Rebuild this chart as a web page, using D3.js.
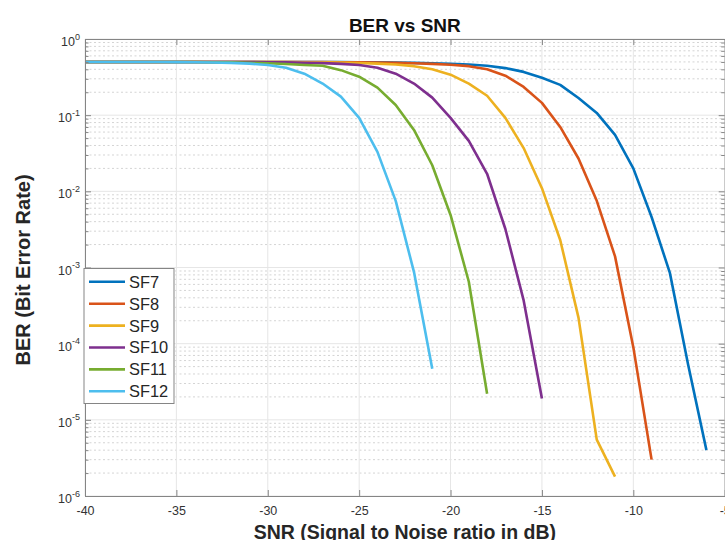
<!DOCTYPE html>
<html lang="en">
<head>
    <meta charset="UTF-8">
    <title>BER vs SNR</title>
    <script src="https://d3js.org/d3.v7.min.js"></script>
    <style>
        html, body {
            margin: 0;
            background: #fff;
        }
        #vis {
            width: 725px;
            height: 540px;
            overflow: hidden;
        }
        text {
            font-family: "Liberation Sans", Arial, Helvetica, sans-serif;
        }
    </style>
</head>
<body>
<div id="vis"></div>
<script type="text/javascript">
// series names, one BER array per spreading factor, SNR (dB) for each point
var names = ["SF7", "SF8", "SF9", "SF10", "SF11", "SF12"];
var colours = ["#0072BD", "#D95319", "#EDB120", "#7E2F8E", "#77AC30", "#4DBEEE"];

var snrSF7 = [-40,-39,-38,-37,-36,-35,-34,-33,-32,-31,-30,-29,-28,-27,-26,-25,-24,-23,-22,-21,-20,-19,-18,-17,-16,-15,-14,-13,-12,-11,-10,-9,-8,-7,-6];
var berSF7 = [0.5,0.5,0.5,0.5,0.5,0.5,0.5,0.5,0.5,0.5,0.5,0.5,0.499,0.498,0.497,0.495,0.493,0.49,0.486,0.48,0.473,0.462,0.445,0.415,0.37,0.31,0.25,0.168,0.107,0.055,0.02,4.6e-3,8.5e-4,5.3e-5,4e-6];

var snrSF8 = [-40,-39,-38,-37,-36,-35,-34,-33,-32,-31,-30,-29,-28,-27,-26,-25,-24,-23,-22,-21,-20,-19,-18,-17,-16,-15,-14,-13,-12,-11,-10,-9];
var berSF8 = [0.5,0.5,0.5,0.5,0.5,0.5,0.5,0.5,0.5,0.5,0.5,0.499,0.498,0.497,0.495,0.493,0.49,0.486,0.48,0.472,0.46,0.44,0.4,0.33,0.235,0.145,0.07,0.027,7.5e-3,1.4e-3,9e-5,3e-6];

var snrSF9 = [-40,-39,-38,-37,-36,-35,-34,-33,-32,-31,-30,-29,-28,-27,-26,-25,-24,-23,-22,-21,-20,-19,-18,-17,-16,-15,-14,-13,-12,-11];
var berSF9 = [0.5,0.5,0.5,0.5,0.5,0.5,0.5,0.5,0.5,0.5,0.499,0.498,0.496,0.494,0.49,0.484,0.475,0.462,0.44,0.4,0.34,0.26,0.18,0.092,0.037,0.011,2.3e-3,2.2e-4,5.5e-6,1.8e-6];

var snrSF10 = [-40,-39,-38,-37,-36,-35,-34,-33,-32,-31,-30,-29,-28,-27,-26,-25,-24,-23,-22,-21,-20,-19,-18,-17,-16,-15];
var berSF10 = [0.5,0.5,0.5,0.5,0.5,0.5,0.5,0.5,0.499,0.498,0.496,0.493,0.488,0.482,0.472,0.455,0.42,0.35,0.26,0.17,0.092,0.046,0.017,3.2e-3,3.7e-4,1.9e-5];

var snrSF11 = [-40,-39,-38,-37,-36,-35,-34,-33,-32,-31,-30,-29,-28,-27,-26,-25,-24,-23,-22,-21,-20,-19,-18];
var berSF11 = [0.5,0.5,0.5,0.5,0.5,0.5,0.498,0.496,0.493,0.488,0.48,0.47,0.455,0.445,0.39,0.32,0.23,0.136,0.064,0.022,4.9e-3,6.5e-4,2.2e-5];

var snrSF12 = [-40,-39,-38,-37,-36,-35,-34,-33,-32,-31,-30,-29,-28,-27,-26,-25,-24,-23,-22,-21];
var berSF12 = [0.5,0.5,0.5,0.499,0.498,0.497,0.495,0.492,0.486,0.475,0.455,0.42,0.35,0.26,0.175,0.092,0.033,7.5e-3,8.7e-4,4.7e-5];

var xTicks = [-40, -35, -30, -25, -20, -15, -10, -5];
var yExponents = [0, -1, -2, -3, -4, -5, -6];

var snrs = [snrSF7, snrSF8, snrSF9, snrSF10, snrSF11, snrSF12];
var bers = [berSF7, berSF8, berSF9, berSF10, berSF11, berSF12];

var margin = {
    top: 39,
    bottom: 44,
    left: 85,
    right: 0.3
};
var width = 725 - margin.left - margin.right;
var height = 540 - margin.top - margin.bottom;

var svg = d3.select('#vis')
    .append('svg')
    .attr('width', 725)
    .attr('height', 540);

var g = svg.append('g')
    .attr('transform', 'translate(' + margin.left + ',' + margin.top + ')');

var x_scale = d3.scaleLinear()
    .domain([-40, -5])
    .range([0, width]);

var y_scale = d3.scaleLog()
    .domain([1e-6, 1])
    .range([height, 0]);

var decades = yExponents.map(function(e) { return Math.pow(10, e); });
var minors = [];
yExponents.slice(1).forEach(function(e) {
    for (var m = 2; m <= 9; m++) minors.push(m * Math.pow(10, e));
});

// grid
g.append('g').selectAll('line')
    .data(minors)
    .enter().append('line')
    .attr('x1', 0).attr('x2', width)
    .attr('y1', function(d) { return y_scale(d); })
    .attr('y2', function(d) { return y_scale(d); })
    .attr('stroke', '#d4d4d4')
    .attr('stroke-width', 1)
    .attr('stroke-dasharray', '2,2.5');

g.append('g').selectAll('line')
    .data(decades)
    .enter().append('line')
    .attr('x1', 0).attr('x2', width)
    .attr('y1', function(d) { return y_scale(d); })
    .attr('y2', function(d) { return y_scale(d); })
    .attr('stroke', '#e6e6e6')
    .attr('stroke-width', 1);

g.append('g').selectAll('line')
    .data(xTicks)
    .enter().append('line')
    .attr('y1', 0).attr('y2', height)
    .attr('x1', function(d) { return x_scale(d); })
    .attr('x2', function(d) { return x_scale(d); })
    .attr('stroke', '#e6e6e6')
    .attr('stroke-width', 1);

// curves
var line = d3.line()
    .x(function(d) { return x_scale(d[0]); })
    .y(function(d) { return y_scale(d[1]); });

names.forEach(function(name, i) {
    var pts = snrs[i].map(function(s, j) { return [s, bers[i][j]]; });
    g.append('path')
        .datum(pts)
        .attr('fill', 'none')
        .attr('stroke', colours[i])
        .attr('stroke-width', 2.6)
        .attr('stroke-linejoin', 'round')
        .attr('d', line);
});

// axes (box, ticks inward)
function styleAxis(sel) {
    sel.selectAll('path, line').attr('stroke', '#858585');
    sel.select('.domain').attr('stroke-width', 1);
}

var x_axis = d3.axisBottom(x_scale)
    .tickValues(xTicks)
    .tickSizeInner(-6)
    .tickSizeOuter(0)
    .tickPadding(10)
    .tickFormat(function(d) { return String(d); });

g.append('g')
    .attr('class', 'x axis')
    .attr('transform', 'translate(0,' + height + ')')
    .call(x_axis)
    .call(styleAxis)
    .selectAll('text')
    .attr('fill', '#333')
    .style('font-size', '12.5px')
    .style('font-family', '"Liberation Sans", Arial, sans-serif');

g.append('g')
    .call(d3.axisTop(x_scale).tickValues(xTicks).tickSizeInner(-6).tickSizeOuter(0).tickFormat(''))
    .call(styleAxis);

[d3.axisLeft, d3.axisRight].forEach(function(ax, k) {
    var a = g.append('g')
        .attr('transform', 'translate(' + (k ? width : 0) + ',0)');
    a.call(ax(y_scale).tickValues(decades).tickSizeInner(-6).tickSizeOuter(0).tickFormat(''))
        .call(styleAxis);
    g.append('g')
        .attr('transform', 'translate(' + (k ? width : 0) + ',0)')
        .call(ax(y_scale).tickValues(minors).tickSizeInner(-3.5).tickSizeOuter(0).tickFormat(''))
        .call(styleAxis)
        .select('.domain').remove();
});

// y tick labels 10^n
var ylab = g.append('g').selectAll('text')
    .data(yExponents)
    .enter().append('text')
    .attr('x', -5)
    .attr('y', function(d) { return y_scale(Math.pow(10, d)) + 7; })
    .attr('text-anchor', 'end')
    .attr('fill', '#333')
    .style('font-size', '12.5px');
ylab.append('tspan').text('10');
ylab.append('tspan')
    .attr('dy', -6.5)
    .style('font-size', '9px')
    .text(function(d) { return d === 0 ? '0' : '-' + (-d); });

// labels
svg.append('text')
    .attr('x', margin.left + width / 2)
    .attr('y', 32)
    .attr('text-anchor', 'middle')
    .attr('fill', '#111')
    .style('font-size', '19px')
    .style('font-weight', 'bold')
    .text('BER vs SNR');

svg.append('text')
    .attr('x', margin.left + width / 2)
    .attr('y', 539)
    .attr('text-anchor', 'middle')
    .attr('fill', '#262626')
    .style('font-size', '19.5px')
    .style('font-weight', 'bold')
    .text('SNR (Signal to Noise ratio in dB)');

svg.append('text')
    .attr('transform', 'translate(29.5,270) rotate(-90)')
    .attr('text-anchor', 'middle')
    .attr('fill', '#262626')
    .style('font-size', '20px')
    .style('font-weight', 'bold')
    .text('BER (Bit Error Rate)');

// legend
var legend = svg.append('g')
    .attr('transform', 'translate(84,268.5)');
legend.append('rect')
    .attr('width', 90)
    .attr('height', 135)
    .attr('fill', '#fff')
    .attr('stroke', '#858585')
    .attr('stroke-width', 1);
var item = legend.selectAll('.item')
    .data(names)
    .enter().append('g')
    .attr('class', 'item')
    .attr('transform', function(d, i) { return 'translate(0,' + (13.3 + i * 21.9) + ')'; });
item.append('line')
    .attr('x1', 5).attr('x2', 41)
    .attr('stroke', function(d, i) { return colours[i]; })
    .attr('stroke-width', 2.6);
item.append('text')
    .attr('x', 45)
    .attr('dy', '0.36em')
    .attr('fill', '#262626')
    .style('font-size', '16.4px')
    .text(function(d) { return d; });
</script>
</body>
</html>
